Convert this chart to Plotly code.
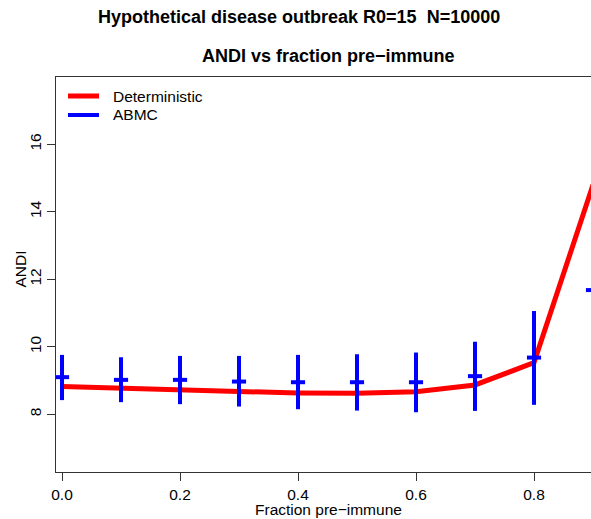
import plotly.graph_objects as go

# ---- data ----
frac = [0.0, 0.1, 0.2, 0.3, 0.4, 0.5, 0.6, 0.7, 0.8, 0.9]
deterministic = [8.82, 8.77, 8.71, 8.66, 8.63, 8.62, 8.67, 8.87, 9.53, 14.8]
abmc_mean = [9.10, 9.02, 9.02, 8.97, 8.95, 8.95, 8.95, 9.13, 9.68, 11.68]
abmc_low = [8.42, 8.36, 8.30, 8.23, 8.15, 8.11, 8.06, 8.10, 8.28, 9.6]
abmc_high = [9.76, 9.69, 9.73, 9.73, 9.76, 9.78, 9.83, 10.15, 11.06, 14.0]
x_ticks = [0.0, 0.2, 0.4, 0.6, 0.8]
x_ticktext = ["0.0", "0.2", "0.4", "0.6", "0.8"]
y_ticks = [8, 10, 12, 14, 16]
y_ticktext = ["8", "10", "12", "14", "16"]
series_names = ["Deterministic", "ABMC"]
series_colors = ["#ff0000", "#0000ff"]
series_widths = [5, 4]

FONT = "Liberation Sans, Arial, Helvetica, sans-serif"
FS = 15.5
cap_half = 0.012

# build error-bar style segments for ABMC
bx, by = [], []
for f, lo, hi, m in zip(frac, abmc_low, abmc_high, abmc_mean):
    bx += [f, f, None, f - cap_half, f + cap_half, None]
    by += [lo, hi, None, m, m, None]

fig = go.Figure()
fig.add_trace(go.Scatter(x=frac, y=deterministic, mode="lines", name=series_names[0],
                         line=dict(color=series_colors[0], width=series_widths[0]),
                         showlegend=False))
fig.add_trace(go.Scatter(x=bx, y=by, mode="lines", name=series_names[1],
                         line=dict(color=series_colors[1], width=series_widths[1]),
                         showlegend=False))

W, H = 591, 519
L, T, B, R = 56, 77, 47, 0
pw, ph = W - L - R, H - T - B

def px(xp):
    return (xp - L) / pw

def py(yp):
    return (H - B - yp) / ph

# custom legend (R-style, no box)
shapes = []
annotations = []
leg_rows = [96, 115]
for name, col, wd, ry in zip(series_names, series_colors, series_widths, leg_rows):
    shapes.append(dict(type="line", xref="paper", yref="paper",
                       x0=px(68), x1=px(99), y0=py(ry), y1=py(ry),
                       line=dict(color=col, width=wd)))
    annotations.append(dict(text=name, x=px(111), y=py(ry), xref="paper", yref="paper",
                            showarrow=False, xanchor="left", yanchor="middle",
                            font=dict(size=FS, family=FONT)))

annotations += [
    dict(text="<b>Hypothetical disease outbreak R0=15  N=10000</b>", x=px(299), y=py(17),
         xref="paper", yref="paper", showarrow=False, xanchor="center", yanchor="middle",
         font=dict(size=18, family=FONT)),
    dict(text="<b>ANDI vs fraction pre\u2212immune</b>", x=px(328), y=py(56),
         xref="paper", yref="paper", showarrow=False, xanchor="center", yanchor="middle",
         font=dict(size=18, family=FONT)),
    dict(text="Fraction pre\u2212immune", x=px(328.5), y=py(509),
         xref="paper", yref="paper", showarrow=False, xanchor="center", yanchor="middle",
         font=dict(size=FS, family=FONT)),
    dict(text="ANDI", x=px(19.5), y=py(269), textangle=-90,
         xref="paper", yref="paper", showarrow=False, xanchor="center", yanchor="middle",
         font=dict(size=FS, family=FONT)),
]

fig.update_layout(
    width=W, height=H,
    margin=dict(l=L, r=R, t=T, b=B, pad=0),
    paper_bgcolor="white", plot_bgcolor="white",
    font=dict(family=FONT, size=FS, color="#000"),
    showlegend=False,
    xaxis=dict(range=[-0.0102, 0.8966], tickvals=x_ticks, ticktext=x_ticktext,
               showgrid=False, zeroline=False, showline=True, linecolor="#333",
               linewidth=1, mirror=True, ticks="outside", ticklen=8, tickcolor="#333",
               tickfont=dict(size=FS, family=FONT)),
    yaxis=dict(range=[6.290, 17.994], tickvals=y_ticks, ticktext=y_ticktext,
               showgrid=False, zeroline=False, showline=True, linecolor="#333",
               linewidth=1, ticks="outside", ticklen=8, tickcolor="#333",
               tickangle=-90, tickfont=dict(size=FS, family=FONT)),
    shapes=shapes,
    annotations=annotations,
)

fig.write_html("out.html")
